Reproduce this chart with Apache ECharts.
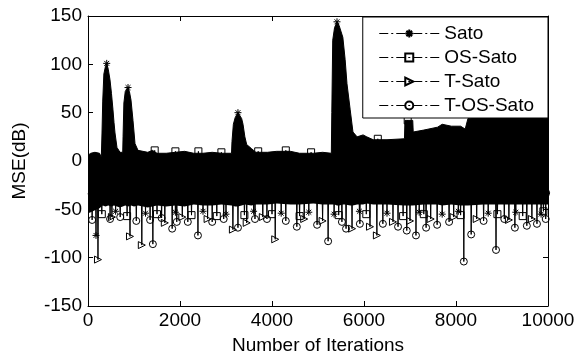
<!DOCTYPE html>
<html>
<head>
<meta charset="utf-8">
<script src="https://cdn.jsdelivr.net/npm/echarts@6.0.0/dist/echarts.min.js"></script>
<style>
html, body { margin: 0; padding: 0; background: #fff; }
#main { width: 579px; height: 358px; }
</style>
</head>
<body>
<div id="main"></div>
<script>
// the solid black mass made by all four curves: upper and lower edge (dB)
var bandIter = [0, 60, 150, 250, 290, 300, 305, 320, 345, 380, 407, 440, 478, 510, 543, 565, 587, 630, 696, 755,
	762, 780, 810, 870, 900, 935, 978, 1000, 1022, 1087, 1130, 1300, 1400, 1500, 1700, 1900, 2100, 2300, 2500, 2700,
	2900, 3120, 3130, 3160, 3200, 3260, 3300, 3340, 3370, 3410, 3450, 3550, 3650, 3900, 4100, 4400, 4600, 4900, 5100, 5290,
	5300, 5320, 5360, 5413, 5460, 5540, 5590, 5630, 5700, 5760, 5850, 5980, 6060, 6200, 6500, 6880, 6890, 7060, 7070, 7300,
	7600, 7700, 7900, 8100, 8200, 8260, 8600, 9000, 9500, 10000];
var bandTop = [6, 8, 9, 8, 4, 6, 30, 62, 90, 98, 101, 95, 84, 70, 53, 40, 29, 14, 9, 9,
	25, 60, 72, 76, 72, 63, 42, 30, 18, 11, 9, 9, 11, 8, 8, 9, 10, 8, 8, 9,
	8, 8, 20, 38, 45, 50, 48, 44, 38, 25, 17, 13, 9, 9, 10, 10, 8, 8, 9, 8,
	50, 125, 138, 144, 140, 128, 105, 80, 53, 30, 25, 27, 25, 22, 22, 23, 42, 42, 30, 32,
	35, 38, 36, 36, 33, 44, 46, 46, 46, 44];
var bandLow = [-54, -53, -51, -49, -47, -47, -47, -46, -46, -47, -47, -46, -46, -47, -47, -46, -46, -47, -48, -47,
	-47, -46, -46, -47, -47, -46, -46, -47, -47, -46, -46, -48, -47, -46, -47, -46, -47, -45, -46, -46,
	-45, -46, -46, -46, -47, -47, -46, -46, -45, -45, -46, -46, -45, -45, -44, -45, -45, -44, -45, -45,
	-45, -45, -45, -46, -46, -45, -45, -45, -46, -46, -45, -45, -44, -45, -45, -46, -46, -46, -46, -45,
	-45, -46, -45, -46, -46, -46, -45, -45, -45, -45];

// points of each curve that show outside the mass: [iteration, MSE dB]
var satoPts = [[164, -36], [174, -77], [184, -35], [400, 20], [407, 101], [414, 20],
	[590, -34], [600, -52], [610, -36], [860, 15], [870, 76], [880, 15],
	[1240, -35], [1250, -54], [1260, -33], [1890, -36], [1900, -53], [1910, -34],
	[2490, -33], [2500, -52], [2510, -36], [2990, -35], [3000, -55], [3010, -34],
	[3250, 10], [3260, 50], [3270, 10], [3590, -34], [3600, -52], [3610, -37],
	[4190, -36], [4200, -54], [4210, -33], [4790, -34], [4800, -53], [4810, -35],
	[5340, -33], [5350, -55], [5360, -36], [5405, 40], [5413, 144], [5421, 40],
	[5890, -35], [5900, -52], [5910, -34], [6490, -36], [6500, -54], [6510, -33],
	[7190, -34], [7200, -53], [7210, -37], [7690, -35], [7700, -55], [7710, -34],
	[8040, -33], [8050, -52], [8060, -36], [8690, -36], [8700, -54], [8710, -34],
	[9290, -34], [9300, -53], [9310, -35], [9840, -35], [9850, -55], [9860, -33]];
var osSatoPts = [[290, -35], [300, -55], [310, -34], [840, -36], [850, -57], [860, -33],
	[1440, -20], [1450, 11], [1460, -20], [1490, -34], [1500, -55], [1510, -36],
	[1890, -20], [1900, 10], [1910, -20], [2240, -35], [2250, -56], [2260, -33],
	[2390, -20], [2400, 10], [2410, -20], [2790, -36], [2800, -57], [2810, -34],
	[2890, -20], [2900, 9], [2910, -20], [3390, -33], [3400, -56], [3410, -35],
	[3690, -20], [3700, 10], [3710, -20], [3990, -34], [4000, -55], [4010, -36],
	[4290, -20], [4300, 11], [4310, -20], [4590, -35], [4600, -57], [4610, -33],
	[4840, -20], [4850, 9], [4860, -20], [5440, -36], [5450, -56], [5460, -34],
	[6040, -33], [6050, -55], [6060, -35], [6290, -10], [6300, 23], [6310, -10],
	[6840, -35], [6850, -57], [6860, -34], [6940, 0], [6950, 42], [6960, 0],
	[7290, -34], [7300, -55], [7310, -36], [8090, -36], [8100, -56], [8110, -33],
	[8890, -33], [8900, -55], [8910, -35], [9440, -35], [9450, -57], [9460, -34],
	[9890, -34], [9900, -52], [9910, -36]];
var tSatoPts = [[207, -40], [217, -102], [227, -38], [510, -34], [520, -58], [530, -36],
	[903, -35], [913, -78], [923, -33], [1160, -36], [1170, -87], [1180, -34],
	[1660, -33], [1670, -64], [1680, -36], [2040, -35], [2050, -58], [2060, -34],
	[2590, -36], [2600, -60], [2610, -33], [3140, -34], [3150, -71], [3160, -36],
	[3440, -35], [3450, -64], [3460, -33], [3790, -36], [3800, -58], [3810, -35],
	[4060, -34], [4070, -81], [4080, -36], [4690, -33], [4700, -60], [4710, -35],
	[5090, -36], [5100, -62], [5110, -34], [5730, -35], [5740, -70], [5750, -33],
	[6120, -34], [6130, -68], [6140, -36], [6270, -36], [6280, -77], [6290, -34],
	[6620, -33], [6630, -63], [6640, -35], [6990, -35], [7000, -62], [7010, -34],
	[7440, -36], [7450, -60], [7460, -33], [7940, -34], [7950, -58], [7960, -36],
	[8440, -35], [8450, -60], [8460, -34], [9140, -33], [9150, -61], [9160, -35],
	[9640, -36], [9650, -60], [9660, -34]];
var tOsSatoPts = [[80, -34], [90, -61], [100, -36], [470, -32], [480, -60], [490, -35],
	[690, -36], [700, -58], [710, -33], [1040, -34], [1050, -62], [1060, -37],
	[1340, -35], [1350, -61], [1360, -33], [1400, -36], [1410, -86], [1420, -34],
	[1590, -33], [1600, -59], [1610, -36], [1820, -37], [1830, -70], [1840, -34],
	[1920, -32], [1930, -63], [1940, -35], [2160, -36], [2170, -63], [2180, -33],
	[2380, -34], [2390, -77], [2400, -36], [2690, -35], [2700, -63], [2710, -32],
	[2940, -37], [2950, -60], [2960, -34], [3250, -33], [3260, -69], [3270, -36],
	[3620, -34], [3630, -60], [3640, -37], [3880, -36], [3890, -60], [3900, -33],
	[4290, -35], [4300, -62], [4310, -34], [4530, -33], [4540, -68], [4550, -36],
	[4970, -37], [4980, -66], [4990, -34], [5210, -34], [5220, -83], [5230, -35],
	[5510, -36], [5520, -63], [5530, -33], [5600, -35], [5610, -70], [5620, -37],
	[5900, -33], [5910, -65], [5920, -36], [6400, -34], [6410, -65], [6420, -35],
	[6730, -36], [6740, -68], [6750, -33], [6920, -35], [6930, -72], [6940, -34],
	[7120, -33], [7130, -77], [7140, -36], [7340, -37], [7350, -69], [7360, -34],
	[7580, -34], [7590, -66], [7600, -35], [7840, -36], [7850, -63], [7860, -33],
	[8160, -35], [8170, -104], [8180, -34], [8320, -33], [8330, -76], [8340, -36],
	[8590, -34], [8600, -62], [8610, -37], [8860, -36], [8870, -92], [8880, -33],
	[9040, -35], [9050, -60], [9060, -34], [9270, -33], [9280, -69], [9290, -36],
	[9530, -37], [9540, -67], [9550, -34], [9750, -34], [9760, -65], [9770, -35],
	[9940, -36], [9950, -60], [9960, -33]];

var seriesNames = ['Sato', 'OS-Sato', 'T-Sato', 'T-OS-Sato'];

var font = "'Liberation Sans', Arial, sans-serif";
var asterisk = 'path://M5 0L5 10M0 5L10 5M1.5 1.5L8.5 8.5M1.5 8.5L8.5 1.5';

var bandTopData = bandIter.map(function (it, i) { return [it, bandTop[i]]; });
var bandLowData = bandIter.map(function (it, i) { return [it, bandLow[i]]; });

var curve = function (name, data, symbol, rotate) {
	return {
		name: name,
		type: 'line',
		data: data,
		symbol: symbol,
		symbolSize: 7,
		symbolRotate: rotate || 0,
		showSymbol: true,
		z: 4,
		silent: true,
		lineStyle: { color: '#000', width: 1 },
		itemStyle: { color: 'rgba(0,0,0,0)', borderColor: '#000', borderWidth: 1 },
		emphasis: { disabled: true }
	};
};

var plainNum = function (v) { return String(v); };

var axisCommon = {
	z: 5,
	axisLine: { onZero: false, lineStyle: { color: '#000', width: 1 } },
	axisTick: { inside: true, length: 5, lineStyle: { color: '#000' } },
	splitLine: { show: false }
};

var option = {
	backgroundColor: '#fff',
	animation: false,
	grid: { left: 88, right: 31, top: 16, bottom: 52, outerBoundsMode: 'none' },
	legend: {
		data: seriesNames,
		orient: 'vertical',
		right: 31,
		top: 17,
		z: 6,
		padding: [7, 14, 3, 16],
		itemGap: 5,
		itemWidth: 60,
		itemHeight: 10,
		backgroundColor: '#fff',
		borderColor: '#000',
		borderWidth: 1,
		borderRadius: 0,
		selectedMode: false,
		lineStyle: { type: [9, 3, 2, 3], width: 1 },
		textStyle: { fontFamily: font, fontSize: 19, lineHeight: 19, color: '#000' }
	},
	xAxis: [
		echarts.util.merge({
			type: 'value', min: 0, max: 10000, interval: 2000,
			name: 'Number of Iterations', nameLocation: 'middle', nameGap: 30,
			nameTextStyle: { fontFamily: font, fontSize: 19, color: '#000' },
			axisLabel: { fontFamily: font, fontSize: 19, color: '#000', margin: 5, formatter: plainNum }
		}, axisCommon, true),
		echarts.util.merge({
			type: 'value', position: 'top', min: 0, max: 10000, interval: 2000,
			axisLabel: { show: false }
		}, axisCommon, true)
	],
	yAxis: [
		echarts.util.merge({
			type: 'value', min: -150, max: 150, interval: 50,
			name: 'MSE(dB)', nameLocation: 'middle', nameGap: 59,
			nameTextStyle: { fontFamily: font, fontSize: 19, color: '#000' },
			axisLabel: { fontFamily: font, fontSize: 19, color: '#000', margin: 6, formatter: plainNum }
		}, axisCommon, true),
		echarts.util.merge({
			type: 'value', position: 'right', min: -150, max: 150, interval: 50,
			axisLabel: { show: false }
		}, axisCommon, true)
	],
	series: [
		{
			// black from the upper edge down
			type: 'line', data: bandTopData,
			symbol: 'none', silent: true, z: 2,
			lineStyle: { color: '#000', width: 1 },
			areaStyle: { color: '#000', opacity: 1, origin: 'start' }
		},
		{
			// white again below the lower edge
			type: 'line', data: bandLowData,
			symbol: 'none', silent: true, z: 3,
			lineStyle: { width: 0, opacity: 0 },
			areaStyle: { color: '#fff', opacity: 1, origin: 'start' }
		},
		curve('Sato', satoPts, asterisk),
		curve('OS-Sato', osSatoPts, 'rect'),
		curve('T-Sato', tSatoPts, 'triangle', -90),
		curve('T-OS-Sato', tOsSatoPts, 'circle')
	]
};

var chart = echarts.init(document.getElementById('main'), null, { renderer: 'canvas' });
chart.setOption(option, true);
</script>
</body>
</html>
